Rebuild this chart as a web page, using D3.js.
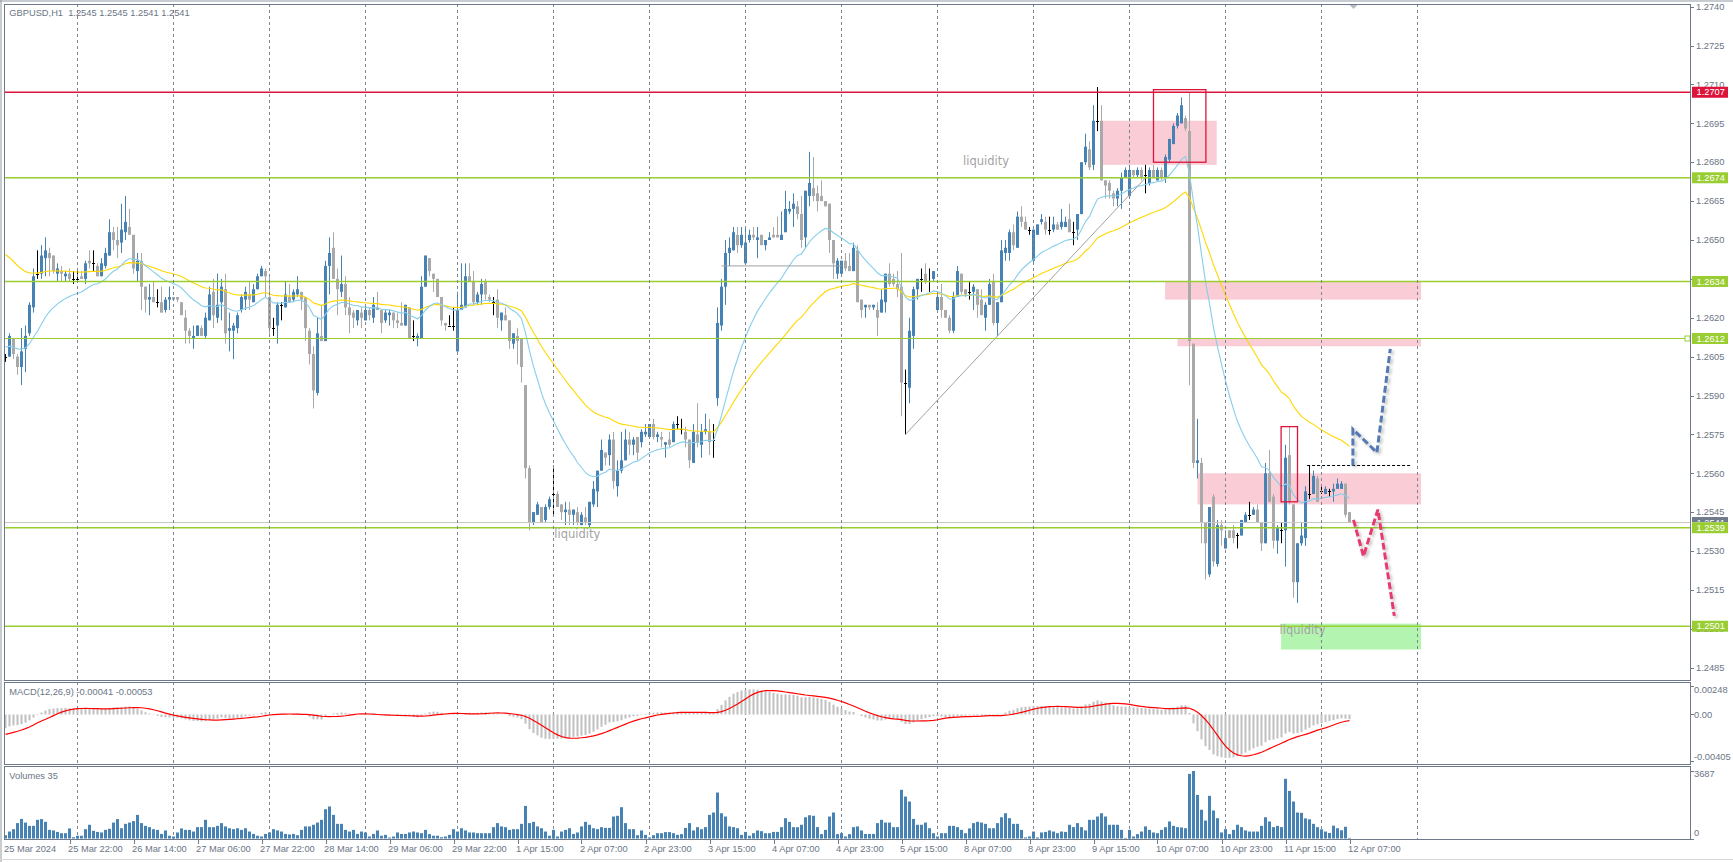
<!DOCTYPE html>
<html><head><meta charset="utf-8">
<script src="https://cdn.jsdelivr.net/npm/d3@7/dist/d3.min.js"></script>
<style>
body{margin:0;background:#fff;overflow:hidden}
svg{display:block}
text{font-family:"Liberation Sans",Arial,sans-serif}
</style>
</head><body>
<svg id="c" width="1733" height="862"></svg>
<script>
// ---------- DATA (GBPUSD H1, 25 Mar 2024 06:00 .. 12 Apr 2024 07:00) ----------
// each row: [open, high, low, close]
const ohlc = [
// 25 Mar 06:00-23:00
[1.2605,1.2606,1.2603,1.2605],[1.2605,1.2614,1.2605,1.2613],[1.2612,1.2612,1.2604,1.2606],[1.2605,1.2606,1.2598,1.2601],
[1.2601,1.2616,1.2594,1.2607],[1.2608,1.2617,1.2599,1.2613],[1.2614,1.2626,1.2613,1.2625],[1.2624,1.2639,1.2622,1.2636],
[1.2637,1.2646,1.2635,1.2637],[1.2637,1.2648,1.2635,1.2644],[1.2643,1.2651,1.2636,1.2646],[1.2645,1.2647,1.2636,1.2643],
[1.2644,1.2644,1.2637,1.2638],[1.2637,1.2641,1.2634,1.2639],[1.2638,1.2640,1.2634,1.2637],[1.2636,1.2638,1.2634,1.2637],
[1.2637,1.2639,1.2634,1.2635],[1.2635,1.2638,1.2633,1.2635],
// 26 Mar
[1.2635,1.2638,1.2634,1.2635],[1.2636,1.2638,1.2635,1.2635],[1.2635,1.2642,1.2633,1.2641],[1.2642,1.2646,1.2639,1.2641],
[1.2641,1.2646,1.2638,1.2641],[1.2640,1.2641,1.2636,1.2636],[1.2636,1.2643,1.2636,1.2641],[1.2640,1.2647,1.2639,1.2645],
[1.2644,1.2658,1.2644,1.2653],[1.2653,1.2655,1.2646,1.2650],[1.2650,1.2655,1.2643,1.2648],[1.2649,1.2664,1.2645,1.2654],
[1.2653,1.2667,1.2650,1.2657],[1.2655,1.2662,1.2652,1.2652],[1.2652,1.2652,1.2637,1.2639],[1.2638,1.2645,1.2634,1.2642],
[1.2642,1.2645,1.2623,1.2632],[1.2632,1.2632,1.2622,1.2627],[1.2627,1.2633,1.2621,1.2628],[1.2628,1.2634,1.2626,1.2626],
[1.2626,1.2631,1.2624,1.2626],[1.2626,1.2632,1.2622,1.2622],[1.2623,1.2628,1.2622,1.2627],[1.2627,1.2632,1.2623,1.2628],
// 27 Mar
[1.2628,1.2628,1.2627,1.2627],[1.2628,1.2628,1.2626,1.2627],[1.2626,1.2626,1.2621,1.2621],[1.2620,1.2623,1.2610,1.2615],
[1.2615,1.2616,1.2610,1.2613],[1.2612,1.2617,1.2608,1.2613],[1.2613,1.2617,1.2613,1.2617],[1.2616,1.2617,1.2613,1.2613],
[1.2613,1.2622,1.2612,1.2620],[1.2619,1.2632,1.2619,1.2629],[1.2630,1.2635,1.2616,1.2621],[1.2620,1.2637,1.2618,1.2625],
[1.2626,1.2635,1.2619,1.2632],[1.2631,1.2637,1.2610,1.2614],[1.2615,1.2622,1.2607,1.2616],[1.2615,1.2618,1.2604,1.2617],
[1.2616,1.2622,1.2614,1.2621],[1.2623,1.2629,1.2622,1.2628],[1.2627,1.2632,1.2623,1.2630],[1.2629,1.2634,1.2623,1.2627],
[1.2626,1.2633,1.2626,1.2631],[1.2631,1.2637,1.2631,1.2636],[1.2636,1.2640,1.2636,1.2639],[1.2638,1.2639,1.2628,1.2636],
// 28 Mar
[1.2628,1.2636,1.2613,1.2616],[1.2616,1.2620,1.2613,1.2616],[1.2617,1.2626,1.2610,1.2625],[1.2625,1.2626,1.2619,1.2625],
[1.2624,1.2634,1.2624,1.2629],[1.2628,1.2633,1.2626,1.2626],[1.2627,1.2631,1.2626,1.2630],[1.2629,1.2636,1.2628,1.2631],
[1.2630,1.2630,1.2623,1.2627],[1.2628,1.2628,1.2611,1.2616],[1.2615,1.2616,1.2602,1.2606],[1.2606,1.2609,1.2585,1.2592],
[1.2591,1.2620,1.2590,1.2614],[1.2613,1.2625,1.2611,1.2611],[1.2611,1.2642,1.2611,1.2640],[1.2640,1.2651,1.2629,1.2645],
[1.2647,1.2653,1.2635,1.2635],[1.2635,1.2639,1.2621,1.2631],[1.2630,1.2644,1.2628,1.2633],[1.2633,1.2636,1.2621,1.2624],
[1.2624,1.2628,1.2614,1.2621],[1.2622,1.2623,1.2616,1.2620],[1.2619,1.2623,1.2617,1.2623],[1.2622,1.2624,1.2616,1.2620],
// 29 Mar (00:00-22:00)
[1.2619,1.2625,1.2619,1.2623],[1.2623,1.2624,1.2619,1.2621],[1.2620,1.2628,1.2618,1.2625],[1.2624,1.2630,1.2623,1.2623],
[1.2623,1.2623,1.2614,1.2618],[1.2619,1.2623,1.2618,1.2622],[1.2621,1.2623,1.2617,1.2622],[1.2622,1.2622,1.2616,1.2619],
[1.2619,1.2622,1.2616,1.2618],[1.2618,1.2626,1.2617,1.2617],[1.2617,1.2625,1.2617,1.2625],[1.2624,1.2624,1.2612,1.2612],
[1.2613,1.2619,1.2611,1.2613],[1.2612,1.2614,1.2609,1.2613],[1.2612,1.2636,1.2612,1.2632],[1.2632,1.2644,1.2632,1.2644],
[1.2643,1.2643,1.2636,1.2638],[1.2637,1.2637,1.2630,1.2635],[1.2635,1.2635,1.2628,1.2628],[1.2628,1.2628,1.2617,1.2619],
[1.2618,1.2618,1.2615,1.2617],[1.2617,1.2621,1.2617,1.2617],[1.2617,1.2624,1.2615,1.2617],
// 1 Apr
[1.2607,1.2630,1.2607,1.2623],[1.2623,1.2641,1.2623,1.2625],[1.2624,1.2641,1.2624,1.2636],[1.2636,1.2641,1.2634,1.2634],
[1.2634,1.2638,1.2625,1.2626],[1.2626,1.2630,1.2625,1.2629],[1.2629,1.2635,1.2625,1.2633],[1.2634,1.2635,1.2627,1.2629],
[1.2628,1.2629,1.2626,1.2627],[1.2626,1.2628,1.2621,1.2626],[1.2627,1.2631,1.2616,1.2620],[1.2619,1.2622,1.2615,1.2622],
[1.2621,1.2624,1.2619,1.2619],[1.2619,1.2619,1.2608,1.2611],[1.2610,1.2614,1.2608,1.2614],[1.2613,1.2616,1.2602,1.2611],
[1.2612,1.2612,1.2595,1.2601],[1.2594,1.2594,1.2558,1.2562],[1.2562,1.2563,1.2538,1.2541],[1.2541,1.2545,1.2540,1.2545],
[1.2544,1.2549,1.2544,1.2548],[1.2547,1.2547,1.2541,1.2541],[1.2542,1.2548,1.2541,1.2547],[1.2547,1.2551,1.2546,1.2550],
// 2 Apr
[1.2552,1.2563,1.2544,1.2552],[1.2552,1.2553,1.2547,1.2547],[1.2548,1.2548,1.2542,1.2545],[1.2545,1.2549,1.2540,1.2546],
[1.2546,1.2549,1.2540,1.2544],[1.2544,1.2546,1.2540,1.2546],[1.2545,1.2547,1.2540,1.2541],[1.2540,1.2545,1.2540,1.2544],
[1.2543,1.2547,1.2540,1.2541],[1.2540,1.2549,1.2539,1.2549],[1.2548,1.2557,1.2547,1.2554],[1.2553,1.2561,1.2547,1.2561],
[1.2561,1.2573,1.2561,1.2569],[1.2568,1.2568,1.2563,1.2566],[1.2567,1.2575,1.2563,1.2573],[1.2573,1.2576,1.2554,1.2557],
[1.2555,1.2565,1.2551,1.2561],[1.2561,1.2576,1.2560,1.2565],[1.2565,1.2577,1.2565,1.2573],[1.2573,1.2576,1.2567,1.2571],
[1.2571,1.2574,1.2567,1.2573],[1.2574,1.2574,1.2565,1.2568],[1.2572,1.2577,1.2570,1.2576],[1.2575,1.2579,1.2574,1.2576],
// 3 Apr
[1.2574,1.2579,1.2574,1.2579],[1.2579,1.2581,1.2573,1.2574],[1.2574,1.2576,1.2572,1.2575],[1.2574,1.2576,1.2570,1.2573],
[1.2571,1.2572,1.2566,1.2572],[1.2573,1.2576,1.2570,1.2571],[1.2572,1.2580,1.2572,1.2579],[1.2579,1.2582,1.2577,1.2579],
[1.2577,1.2581,1.2575,1.2577],[1.2576,1.2578,1.2570,1.2573],[1.2573,1.2573,1.2562,1.2565],[1.2564,1.2579,1.2564,1.2576],
[1.2575,1.2587,1.2570,1.2572],[1.2571,1.2579,1.2566,1.2576],[1.2576,1.2583,1.2575,1.2577],[1.2576,1.2581,1.2567,1.2572],
[1.2573,1.2579,1.2566,1.2573],[1.2589,1.2624,1.2586,1.2618],[1.2617,1.2635,1.2615,1.2632],[1.2632,1.2650,1.2625,1.2645],
[1.2645,1.2651,1.2640,1.2647],[1.2646,1.2655,1.2646,1.2653],[1.2652,1.2655,1.2645,1.2648],[1.2648,1.2655,1.2647,1.2652],
// 4 Apr
[1.2641,1.2655,1.2641,1.2649],[1.2650,1.2654,1.2649,1.2652],[1.2652,1.2655,1.2650,1.2651],[1.2650,1.2655,1.2643,1.2651],
[1.2652,1.2652,1.2648,1.2648],[1.2648,1.2650,1.2646,1.2650],[1.2650,1.2653,1.2650,1.2651],[1.2652,1.2655,1.2651,1.2651],
[1.2652,1.2659,1.2651,1.2651],[1.2650,1.2661,1.2650,1.2652],[1.2653,1.2669,1.2653,1.2662],[1.2661,1.2665,1.2660,1.2662],
[1.2662,1.2668,1.2655,1.2664],[1.2663,1.2665,1.2658,1.2660],[1.2660,1.2667,1.2647,1.2650],[1.2651,1.2669,1.2647,1.2669],
[1.2667,1.2684,1.2663,1.2672],[1.2670,1.2682,1.2665,1.2667],[1.2668,1.2671,1.2661,1.2665],[1.2667,1.2673,1.2665,1.2665],
[1.2665,1.2665,1.2663,1.2663],[1.2664,1.2664,1.2645,1.2650],[1.2650,1.2650,1.2635,1.2641],[1.2637,1.2643,1.2635,1.2642],
// 5 Apr
[1.2637,1.2642,1.2636,1.2642],[1.2642,1.2645,1.2638,1.2639],[1.2640,1.2645,1.2638,1.2638],[1.2638,1.2649,1.2638,1.2647],
[1.2646,1.2648,1.2626,1.2626],[1.2627,1.2627,1.2620,1.2623],[1.2624,1.2625,1.2620,1.2625],[1.2625,1.2625,1.2623,1.2624],
[1.2624,1.2625,1.2623,1.2625],[1.2623,1.2626,1.2613,1.2620],[1.2622,1.2631,1.2622,1.2627],[1.2626,1.2637,1.2622,1.2637],
[1.2637,1.2641,1.2632,1.2633],[1.2635,1.2637,1.2632,1.2633],[1.2633,1.2638,1.2628,1.2631],[1.2632,1.2645,1.2582,1.2595],
[1.2595,1.2600,1.2575,1.2595],[1.2593,1.2620,1.2587,1.2615],[1.2613,1.2632,1.2608,1.2631],[1.2631,1.2635,1.2627,1.2635],
[1.2635,1.2639,1.2630,1.2635],[1.2637,1.2641,1.2633,1.2634],[1.2634,1.2639,1.2630,1.2634],[1.2635,1.2638,1.2634,1.2638],
// 8 Apr
[1.2623,1.2629,1.2623,1.2628],[1.2628,1.2633,1.2620,1.2623],[1.2623,1.2623,1.2620,1.2620],[1.2620,1.2621,1.2614,1.2615],
[1.2615,1.2630,1.2614,1.2628],[1.2628,1.2640,1.2628,1.2638],[1.2637,1.2637,1.2629,1.2630],[1.2631,1.2631,1.2628,1.2629],
[1.2630,1.2634,1.2627,1.2630],[1.2630,1.2633,1.2623,1.2632],[1.2631,1.2631,1.2620,1.2625],[1.2627,1.2631,1.2621,1.2621],
[1.2620,1.2626,1.2615,1.2625],[1.2625,1.2635,1.2625,1.2633],[1.2634,1.2637,1.2617,1.2618],[1.2618,1.2626,1.2613,1.2626],
[1.2626,1.2650,1.2626,1.2646],[1.2645,1.2650,1.2642,1.2647],[1.2645,1.2654,1.2642,1.2653],[1.2653,1.2656,1.2646,1.2648],
[1.2647,1.2661,1.2647,1.2659],[1.2659,1.2663,1.2655,1.2657],[1.2657,1.2659,1.2654,1.2654],[1.2654,1.2655,1.2652,1.2654],
// 9 Apr
[1.2642,1.2654,1.2641,1.2654],[1.2652,1.2656,1.2652,1.2656],[1.2657,1.2660,1.2656,1.2658],[1.2657,1.2659,1.2652,1.2654],
[1.2654,1.2659,1.2652,1.2654],[1.2654,1.2659,1.2653,1.2656],[1.2656,1.2657,1.2654,1.2654],[1.2655,1.2662,1.2654,1.2657],
[1.2655,1.2659,1.2655,1.2657],[1.2658,1.2664,1.2653,1.2653],[1.2653,1.2657,1.2648,1.2653],[1.2654,1.2660,1.2650,1.2660],
[1.2660,1.2680,1.2660,1.2680],[1.2680,1.2691,1.2679,1.2686],[1.2685,1.2688,1.2677,1.2678],[1.2679,1.2702,1.2677,1.2696],
[1.2696,1.2709,1.2692,1.2696],[1.2696,1.2702,1.2673,1.2673],[1.2673,1.2673,1.2666,1.2671],[1.2672,1.2673,1.2666,1.2669],
[1.2668,1.2669,1.2663,1.2666],[1.2666,1.2670,1.2663,1.2669],[1.2669,1.2676,1.2662,1.2674],[1.2674,1.2678,1.2674,1.2677],
// 10 Apr
[1.2667,1.2679,1.2667,1.2677],[1.2677,1.2677,1.2674,1.2675],[1.2675,1.2678,1.2674,1.2677],[1.2677,1.2678,1.2673,1.2674],
[1.2675,1.2679,1.2668,1.2675],[1.2672,1.2678,1.2671,1.2677],[1.2677,1.2679,1.2674,1.2674],[1.2673,1.2678,1.2673,1.2677],
[1.2677,1.2678,1.2673,1.2674],[1.2674,1.2683,1.2672,1.2682],[1.2681,1.2689,1.2680,1.2689],[1.2687,1.2695,1.2687,1.2694],
[1.2694,1.2699,1.2693,1.2698],[1.2695,1.2705,1.2695,1.2702],[1.2697,1.2698,1.2692,1.2693],[1.2692,1.2707,1.2594,1.2611],
[1.2610,1.2610,1.2562,1.2564],[1.2564,1.2581,1.2558,1.2565],[1.2564,1.2566,1.2533,1.2541],[1.2541,1.2541,1.2519,1.2533],
[1.2521,1.2547,1.2520,1.2547],[1.2551,1.2552,1.2524,1.2526],[1.2525,1.2542,1.2524,1.2540],[1.2540,1.2542,1.2532,1.2538],
// 11 Apr
[1.2531,1.2538,1.2531,1.2535],[1.2538,1.2538,1.2535,1.2535],[1.2538,1.2540,1.2533,1.2535],[1.2536,1.2537,1.2531,1.2536],
[1.2536,1.2542,1.2536,1.2542],[1.2541,1.2545,1.2541,1.2544],[1.2544,1.2549,1.2542,1.2544],[1.2544,1.2547,1.2544,1.2546],
[1.2546,1.2548,1.2541,1.2541],[1.2541,1.2541,1.2530,1.2533],[1.2533,1.2564,1.2533,1.2560],[1.2560,1.2569,1.2549,1.2549],
[1.2551,1.2552,1.2531,1.2534],[1.2534,1.2540,1.2529,1.2539],[1.2538,1.2541,1.2533,1.2538],[1.2538,1.2571,1.2524,1.2566],
[1.2567,1.2578,1.2548,1.2549],[1.2548,1.2548,1.2512,1.2518],[1.2518,1.2533,1.2510,1.2533],[1.2533,1.2541,1.2532,1.2536],
[1.2535,1.2555,1.2532,1.2553],[1.2552,1.2563,1.2550,1.2552],[1.2552,1.2561,1.2552,1.2559],[1.2558,1.2559,1.2549,1.2549],
// 12 Apr 00:00-07:00
[1.2553,1.2555,1.2552,1.2553],[1.2552,1.2555,1.2552,1.2554],[1.2553,1.2554,1.2551,1.2553],[1.2553,1.2556,1.2549,1.2554],
[1.2554,1.2558,1.2554,1.2556],[1.2554,1.2557,1.2554,1.2556],[1.2556,1.2556,1.2543,1.2544],[1.2545,1.2545,1.2541,1.2541]
];

// tick volume per bar
const volumes = [
180,380,510,840,1070,870,690,690,1020,1060,910,470,440,360,290,290,550,70,
150,150,510,750,420,360,330,470,530,870,1060,560,800,870,950,1290,840,690,620,510,470,250,440,150,
110,330,550,470,470,380,620,620,1020,620,620,690,840,660,560,510,560,470,560,380,250,150,110,250,
330,510,440,380,250,220,250,180,470,660,660,750,870,1020,1600,1750,1290,800,800,470,380,470,250,380,
330,110,250,440,150,200,55,110,330,250,250,330,380,330,290,470,240,150,150,70,110,200,510,
380,560,440,330,330,290,290,290,290,620,840,660,620,470,510,510,800,1780,840,910,660,560,380,150,
470,110,380,470,560,250,330,660,910,750,560,510,620,580,580,1200,1240,1710,840,510,510,180,440,200,
60,180,290,290,350,350,290,200,240,580,840,440,620,510,620,1290,1420,2510,1380,1200,660,620,560,200,
360,150,290,440,400,290,290,360,360,620,1110,910,620,620,750,1160,1270,1240,620,240,470,1200,1420,240,
290,110,240,620,660,440,250,250,250,840,1020,870,870,620,620,2660,2290,2020,1070,750,750,870,560,290,
110,290,290,690,690,620,470,290,550,840,910,870,800,560,560,840,1160,1380,1110,800,800,470,60,110,
380,60,330,360,440,380,290,380,360,750,620,840,620,440,1020,1020,1200,1380,1200,750,750,750,470,30,
470,110,240,380,660,470,330,290,470,620,930,690,620,600,560,3530,3687,2380,1570,980,2330,1530,1110,330,
510,240,470,750,620,440,380,380,380,690,1160,930,620,690,620,3260,2600,2020,1420,1400,1100,1050,800,620,
500,380,300,700,560,450,640,35
];

const priceTicks = [1.2485,1.2500,1.2515,1.2530,1.2545,1.2560,1.2575,1.2590,1.2605,1.2620,1.2635,1.2650,1.2665,1.2680,1.2695,1.2710,1.2725,1.2740];
const macdTicks = [0.00248, 0.00, -0.00405];
const volumeTicks = [3687, 0];
const dayStartBars = [18,42,66,90,113,137,161,185,209,233,257,281,305,329,353];
const dateLabels = [
 [0,"25 Mar 2024"],[16,"25 Mar 22:00"],[32,"26 Mar 14:00"],[48,"27 Mar 06:00"],[64,"27 Mar 22:00"],
 [80,"28 Mar 14:00"],[96,"29 Mar 06:00"],[112,"29 Mar 22:00"],[128,"1 Apr 15:00"],[144,"2 Apr 07:00"],
 [160,"2 Apr 23:00"],[176,"3 Apr 15:00"],[192,"4 Apr 07:00"],[208,"4 Apr 23:00"],[224,"5 Apr 15:00"],
 [240,"8 Apr 07:00"],[256,"8 Apr 23:00"],[272,"9 Apr 15:00"],[288,"10 Apr 07:00"],[304,"10 Apr 23:00"],
 [320,"11 Apr 15:00"],[336,"12 Apr 07:00"]
];
// horizontal levels [price, kind]
const levels = [[1.2707,"red"],[1.2674,"green"],[1.2634,"green"],[1.2612,"green-thin"],[1.2539,"green"],[1.2501,"green"]];
const bidPrice = 1.2541;
const chartShiftBar = 337;
// filled zones [barFrom, barTo, priceTop, priceBottom, kind]
const zones = [
 [273.8,302.8,1.2696,1.2679,"pink"],
 [289.9,353.9,1.2634,1.2627,"pink"],
 [293.0,353.9,1.2612,1.2609,"pink"],
 [298.0,353.9,1.2560,1.2548,"pink"],
 [318.9,353.9,1.2502,1.2492,"green"]
];
// outlined boxes [barFrom, barTo, priceTop, priceBottom]
const boxes = [[287.0,300.1,1.2708,1.2680],[318.9,323.0,1.2578,1.2549]];
// trend line & plain segments [bar1, price1, bar2, price2]
const trendLines = [[225,1.2575,285,1.2674],[179,1.2640,209,1.2640]];
const dashedLevel = [325.4,351.2,1.2563];
const texts = [[239.4,1.2679,"liquidity"],[137.2,1.2535,"liquidity"],[318.5,1.2498,"liquidity"]];
const bullPath = [[336.85,1.2563],[336.85,1.2577],[342.85,1.2568],[346.2,1.2608]];
const bearPath = [[337.0,1.2542],[339.5,1.2528],[343.1,1.2546],[347.2,1.2505]];
// indicator settings and starting values read from the left edge
const ema20Start = 1.2609, ema50Start = 1.2646;
const ema12Start = 1.2604, ema26Start = 1.2617, signalStart = -0.0018;
const header = "GBPUSD,H1  1.2545 1.2545 1.2541 1.2541";
const macdTitle = "MACD(12,26,9) -0.00041 -0.00053";
const volTitle = "Volumes 35";

// ---------- DRAWING ----------
const svg = d3.select("#c");
const P = {x0:4, x1:1690, mainT:4, mainB:680, macdT:682, macdB:764, volT:766, volB:839};
const x = d3.scaleLinear().domain([0,336]).range([5.5,1349.5]);
const y = d3.scaleLinear().domain([1.2485,1.2740]).range([667.7,6.7]);
const yM = d3.scaleLinear().domain([-0.00405,0.00248]).range([761,686]);
const yV = d3.scaleLinear().domain([0,3687]).range([838.5,771]);
const axisCol = "#6A7585", frameCol = "#6E7A8A";
const closes = ohlc.map(d=>d[3]);

function ema(vals, n, seed){ const a=2/(n+1); let e=seed; return vals.map(v=>(e=e+a*(v-e))); }
const ema20 = ema(closes,20,ema20Start), ema50 = ema(closes,50,ema50Start);
const e12 = ema(closes,12,ema12Start), e26 = ema(closes,26,ema26Start);
const macdMain = e12.map((v,i)=>v-e26[i]);
const hist = Array(8).fill(signalStart).concat(macdMain);
const macdSignal = macdMain.map((v,i)=>d3.mean(hist.slice(i,i+9)));

const defs = svg.append("defs");
defs.append("clipPath").attr("id","cm").append("rect").attr("x",P.x0).attr("y",P.mainT).attr("width",P.x1-P.x0).attr("height",P.mainB-P.mainT);
defs.append("clipPath").attr("id","cd").append("rect").attr("x",P.x0).attr("y",P.macdT).attr("width",P.x1-P.x0).attr("height",P.macdB-P.macdT);
defs.append("clipPath").attr("id","cv").append("rect").attr("x",P.x0).attr("y",P.volT).attr("width",P.x1-P.x0).attr("height",P.volB-P.volT);
defs.append("clipPath").attr("id","cbid").append("rect").attr("x",1690).attr("y",0).attr("width",43).attr("height",y(1.2539)-5.5);
const sh = defs.append("filter").attr("id","shadow").attr("x","-20%").attr("y","-20%").attr("width","140%").attr("height","140%");
sh.append("feDropShadow").attr("dx",2).attr("dy",2).attr("stdDeviation",1.6).attr("flood-color","#000").attr("flood-opacity",0.25);

// outer window edge
svg.append("line").attr("x1",0).attr("x2",1733).attr("y1",1).attr("y2",1).attr("stroke","#9099a4");
svg.append("line").attr("x1",1).attr("x2",1).attr("y1",0).attr("y2",862).attr("stroke","#9099a4");
svg.append("line").attr("x1",0).attr("x2",1733).attr("y1",859.5).attr("y2",859.5).attr("stroke","#d8d8d8");

const main = svg.append("g").attr("clip-path","url(#cm)");
// zones
main.selectAll("rect.zone").data(zones).join("rect").attr("class","zone")
 .attr("x",d=>x(d[0])).attr("width",d=>x(d[1])-x(d[0]))
 .attr("y",d=>y(d[2])).attr("height",d=>y(d[3])-y(d[2]))
 .attr("fill",d=>d[4]==="pink"?"#F9CCD6":"#B3F5B0");

// vertical grid (all panes)
svg.append("g").selectAll("line").data(dayStartBars).join("line")
 .attr("x1",d=>x(d)).attr("x2",d=>x(d)).attr("y1",P.mainT).attr("y2",P.volB)
 .attr("stroke","#7C8594").attr("stroke-dasharray","3,3").attr("stroke-width",1);

// candles
const cg = main.append("g");
ohlc.forEach((d,i)=>{
  const [o,h,l,c]=d, cx=x(i);
  const col = c>o ? "#4682B4" : (c<o ? "#A9A9A9" : "#000");
  cg.append("line").attr("x1",cx).attr("x2",cx).attr("y1",y(h)).attr("y2",y(l)).attr("stroke",col).attr("stroke-width",1);
  if(c===o){
    cg.append("line").attr("x1",cx-1.5).attr("x2",cx+1.5).attr("y1",Math.round(y(o))+0.5).attr("y2",Math.round(y(o))+0.5).attr("stroke","#000");
  } else {
    const top=y(Math.max(o,c)), bot=y(Math.min(o,c));
    cg.append("rect").attr("x",cx-1.5).attr("width",3).attr("y",top).attr("height",Math.max(1,bot-top)).attr("fill",col);
  }
});
// moving averages
const lineGen = d3.line().x((d,i)=>x(i)).y(d=>y(d));
main.append("path").attr("d",lineGen(ema50)).attr("fill","none").attr("stroke","#FFD700").attr("stroke-width",1.1);
main.append("path").attr("d",lineGen(ema20)).attr("fill","none").attr("stroke","#87CEEB").attr("stroke-width",1.1);

// trend lines
main.selectAll("line.tl").data(trendLines).join("line").attr("class","tl")
 .attr("x1",d=>x(d[0])).attr("y1",d=>y(d[1])).attr("x2",d=>x(d[2])).attr("y2",d=>y(d[3]))
 .attr("stroke","#A0A0A0").attr("stroke-width",1);
// bid line
main.append("line").attr("x1",P.x0).attr("x2",P.x1).attr("y1",y(bidPrice)).attr("y2",y(bidPrice)).attr("stroke","#C8C8C8").attr("stroke-width",1);
// level lines
main.selectAll("line.lv").data(levels).join("line").attr("class","lv")
 .attr("x1",P.x0).attr("x2",P.x1).attr("y1",d=>y(d[0])).attr("y2",d=>y(d[0]))
 .attr("stroke",d=>d[1]==="red"?"#DC143C":"#9ACD32").attr("stroke-width",d=>d[1]==="green-thin"?1:1.5);
// selected-line handle
svg.append("rect").attr("x",P.x1-5).attr("y",y(1.2612)-2.5).attr("width",5).attr("height",5).attr("fill","#fff").attr("stroke","#9ACD32");
// black dashed level
main.append("line").attr("x1",x(dashedLevel[0])).attr("x2",x(dashedLevel[1])).attr("y1",y(dashedLevel[2])).attr("y2",y(dashedLevel[2]))
 .attr("stroke","#000").attr("stroke-dasharray","3,2").attr("stroke-width",1);
// outlined boxes
main.selectAll("rect.bx").data(boxes).join("rect").attr("class","bx")
 .attr("x",d=>x(d[0])).attr("width",d=>x(d[1])-x(d[0])).attr("y",d=>y(d[2])).attr("height",d=>y(d[3])-y(d[2]))
 .attr("fill","none").attr("stroke","#DC143C").attr("stroke-width",1.3);
// texts
main.selectAll("text.lq").data(texts).join("text").attr("class","lq")
 .attr("x",d=>x(d[0])).attr("y",d=>y(d[1])).text(d=>d[2])
 .attr("fill","#A3A3A3").style("font-family","'DejaVu Sans',sans-serif").style("font-size","11.5px");
// scenario paths
const pg = d3.line().x(d=>x(d[0])).y(d=>y(d[1]));
main.append("path").attr("d",pg(bullPath)).attr("fill","none").attr("stroke","#5579B2").attr("stroke-width",3)
 .attr("stroke-dasharray","7,3").attr("filter","url(#shadow)");
main.append("path").attr("d",pg(bearPath)).attr("fill","none").attr("stroke","#E63A6E").attr("stroke-width",3)
 .attr("stroke-dasharray","7,3").attr("filter","url(#shadow)");
// chart shift marker
const sx = x(chartShiftBar);
svg.append("path").attr("d",`M${sx-4},5L${sx+4},5L${sx},9Z`).attr("fill","#B8BCC2");

// MACD pane
const mg = svg.append("g").attr("clip-path","url(#cd)");
mg.selectAll("rect").data(macdMain).join("rect")
 .attr("x",(d,i)=>x(i)-1).attr("width",2)
 .attr("y",d=>Math.min(yM(d),yM(0))).attr("height",d=>Math.abs(yM(d)-yM(0)))
 .attr("fill","#C0C0C0");
mg.append("path").attr("d",d3.line().x((d,i)=>x(i)).y(d=>yM(d))(macdSignal)).attr("fill","none").attr("stroke","#FF0000").attr("stroke-width",1.2);

// Volume pane
const vg = svg.append("g").attr("clip-path","url(#cv)");
vg.selectAll("rect").data(volumes).join("rect")
 .attr("x",(d,i)=>x(i)-1.5).attr("width",3).attr("y",d=>yV(d)).attr("height",d=>yV(0)-yV(d)).attr("fill","#4682B4");

// pane frames
[[P.mainT,P.mainB],[P.macdT,P.macdB],[P.volT,P.volB]].forEach(([t,b])=>{
  svg.append("rect").attr("x",P.x0+0.5).attr("y",t+0.5).attr("width",P.x1-P.x0).attr("height",b-t).attr("fill","none").attr("stroke",frameCol).attr("stroke-width",1);
});

// price axis
const ax = svg.append("g").style("font-size","9.3px").attr("fill",axisCol);
priceTicks.forEach(p=>{
  ax.append("line").attr("x1",P.x1+1).attr("x2",P.x1+4).attr("y1",Math.round(y(p))+0.5).attr("y2",Math.round(y(p))+0.5).attr("stroke",frameCol);
  ax.append("text").attr("x",1696).attr("y",y(p)).attr("dy","0.35em").text(p.toFixed(4));
});
// price flags
function flag(p,col,clip){
  const g = svg.append("g");
  if(clip) g.attr("clip-path","url(#"+clip+")");
  g.append("rect").attr("x",1692).attr("y",y(p)-5.5).attr("width",36).attr("height",11).attr("fill",col);
  g.append("text").attr("x",1696.5).attr("y",y(p)).attr("dy","0.35em").attr("fill","#fff").style("font-size","9.3px").text(p.toFixed(4));
}
flag(bidPrice,"#6F7B8B","cbid");
levels.forEach(l=>flag(l[0], l[1]==="red"?"#DC143C":"#9ACD32"));

// MACD axis
[[macdTicks[0],689.3],[macdTicks[1],714.3],[macdTicks[2],757]].forEach(([v,ty])=>{
  svg.append("line").attr("x1",P.x1+1).attr("x2",P.x1+4).attr("y1",Math.round(yM(v))+0.5).attr("y2",Math.round(yM(v))+0.5).attr("stroke",frameCol);
  svg.append("text").attr("x",1694).attr("y",ty).attr("dy","0.35em").attr("fill",axisCol).style("font-size","9.3px")
    .text(v===0?"0.00":v.toFixed(5));
});
// Volume axis
[[volumeTicks[0],774],[volumeTicks[1],832.3]].forEach(([v,ty])=>{
  svg.append("line").attr("x1",P.x1+1).attr("x2",P.x1+4).attr("y1",Math.round(yV(v))+0.5).attr("y2",Math.round(yV(v))+0.5).attr("stroke",frameCol);
  svg.append("text").attr("x",1694).attr("y",ty).attr("dy","0.35em").attr("fill",axisCol).style("font-size","9.3px").text(String(v));
});

// time axis
const tg = svg.append("g").style("font-size","9.3px").attr("fill",axisCol);
dateLabels.forEach(([b,t],k)=>{
  const tx = x(b);
  if(k>0) tg.append("line").attr("x1",Math.round(tx)+0.5).attr("x2",Math.round(tx)+0.5).attr("y1",P.volB+1).attr("y2",P.volB+5).attr("stroke",frameCol);
  tg.append("text").attr("x",k===0?4:tx-1.5).attr("y",849).attr("dy","0.35em").text(t);
});

// titles
svg.append("text").attr("x",9.3).attr("y",12.7).attr("dy","0.35em").attr("fill",axisCol).style("font-size","9.3px").style("white-space","pre").text(header);
svg.append("text").attr("x",9.3).attr("y",691.7).attr("dy","0.35em").attr("fill",axisCol).style("font-size","9.3px").text(macdTitle);
svg.append("text").attr("x",9.3).attr("y",775.7).attr("dy","0.35em").attr("fill",axisCol).style("font-size","9.3px").text(volTitle);
</script>
</body></html>
